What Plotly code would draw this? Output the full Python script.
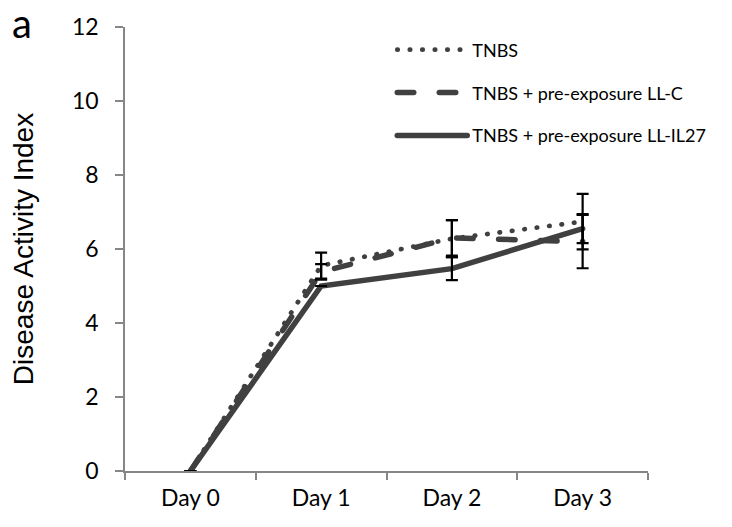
import plotly.graph_objects as go

# Disease activity over the course of TNBS colitis
days = ["Day 0", "Day 1", "Day 2", "Day 3"]

tnbs = [0, 5.55, 6.28, 6.74]
tnbs_err = [0, 0.35, 0.50, 0.75]

llc = [0, 5.38, 6.30, 6.20]
llc_err = [0, 0.21, 0.48, 0.72]

il27 = [0, 5.0, 5.47, 6.55]
il27_err = [0, 0, 0.31, 0.39]

series_names = ["TNBS", "TNBS + pre-exposure LL-C", "TNBS + pre-exposure LL-IL27"]

LINE = "#404040"
AXIS = "#868686"
SANS = "Lato, 'Open Sans', sans-serif"
TICK_FONT = dict(family=SANS, size=23, color="#000000")

fig = go.Figure()

styles = [
    dict(width=4.7, dash="0.5px,12px"),
    dict(width=5.5, dash="16.5px,25.5px"),
    dict(width=5.5, dash="solid"),
]
values = [tnbs, llc, il27]
errors = [tnbs_err, llc_err, il27_err]

for i, (name, y, st) in enumerate(zip(series_names, values, styles)):
    fig.add_trace(go.Scatter(
        x=days, y=y, name=name, mode="lines",
        line=dict(color=LINE, width=st["width"], dash=st["dash"]),
        legendgroup=f"g{i}",
    ))

# error bars drawn above all lines
for y, e in zip(values, errors):
    fig.add_trace(go.Scatter(
        x=days, y=y, mode="markers", showlegend=False, hoverinfo="skip",
        marker=dict(size=1, color="rgba(0,0,0,0)"),
        error_y=dict(type="data", array=e, visible=True,
                     color="#000000", thickness=2.2, width=6),
    ))

fig.update_layout(
    width=732, height=527,
    margin=dict(l=125, r=84, t=23, b=56),
    paper_bgcolor="white", plot_bgcolor="white",
    showlegend=True,
    legend=dict(
        x=0.511, y=0.99, xanchor="left", yanchor="top",
        font=dict(family=SANS, size=18, color="#000000"),
        bgcolor="rgba(0,0,0,0)", itemwidth=70,
        traceorder="grouped", tracegroupgap=16.5,
    ),
    xaxis=dict(
        type="category", range=[-0.5, 3.5],
        showline=True, linecolor=AXIS, linewidth=1.5,
        ticks="outside", tickson="boundaries", ticklen=7, tickcolor=AXIS, tickwidth=1.5,
        ticklabelstandoff=6,
        showgrid=False, zeroline=False, tickfont=TICK_FONT,
    ),
    yaxis=dict(
        range=[0, 12], dtick=2,
        showline=True, linecolor=AXIS, linewidth=1.5,
        ticks="outside", ticklen=8, tickcolor=AXIS, tickwidth=1.5,
        ticklabelstandoff=12,
        showgrid=False, zeroline=False, tickfont=TICK_FONT,
        title=dict(text="Disease Activity Index", standoff=30,
                   font=dict(family="'Liberation Sans', Arial, sans-serif", size=28, color="#000000")),
    ),
)

fig.add_annotation(
    text="a", xref="paper", yref="paper", x=-0.196, y=1.009,
    xanchor="center", yanchor="middle", showarrow=False,
    font=dict(family=SANS, size=40, color="#000000"),
)

# round line caps so the dotted and dashed strokes look like the printed chart
ROUND_CAPS = """
document.querySelectorAll('.js-line').forEach(function (p) {
  p.style.strokeLinecap = 'round';
});
"""

fig.write_html("out.html", post_script=ROUND_CAPS)
